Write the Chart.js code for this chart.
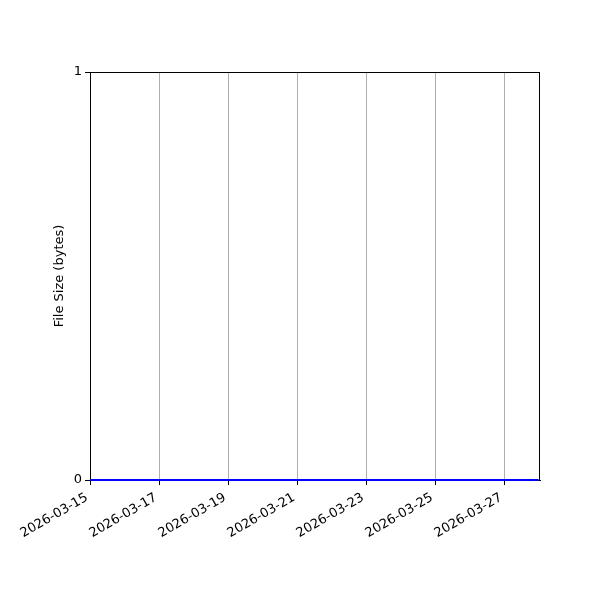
<!DOCTYPE html>
<html>
<head>
<meta charset="utf-8">
<script src="https://cdn.jsdelivr.net/npm/chart.js@4"></script>
<style>
  html, body { margin: 0; padding: 0; background: #fff; }
  #wrap { width: 600px; height: 600px; }
</style>
</head>
<body>
<div id="wrap"><canvas id="myChart" width="600" height="600"></canvas></div>
<script>
// data: daily file size samples, all zero
var dates = ['2026-03-15', '2026-03-16', '2026-03-17', '2026-03-18', '2026-03-19',
             '2026-03-20', '2026-03-21', '2026-03-22', '2026-03-23', '2026-03-24',
             '2026-03-25', '2026-03-26', '2026-03-27', '2026-03-28'];
var sizes = [0, 0, 0, 0, 0, 0, 0, 0, 0, 0, 0, 0, 0, 0];
var yTicks = [0, 1];

var DAY = 86400000;
var start = Date.UTC(2026, 2, 15);

function dayOffset(s) {
    var p = s.split('-');
    return (Date.UTC(+p[0], +p[1] - 1, +p[2]) - start) / DAY;
}
function dateLabel(v) {
    var d = new Date(start + v * DAY);
    var m = d.getUTCMonth() + 1, dd = d.getUTCDate();
    return d.getUTCFullYear() + '-' + (m < 10 ? '0' : '') + m + '-' + (dd < 10 ? '0' : '') + dd;
}

var points = dates.map(function (d, i) { return { x: dayOffset(d), y: sizes[i] }; });

// axes frame (top/right spines), drawn under the line
var framePlugin = {
    id: 'frame',
    beforeDatasetsDraw: function (chart) {
        var a = chart.chartArea, c = chart.ctx;
        c.save();
        c.strokeStyle = '#000';
        c.lineWidth = 1;
        c.strokeRect(a.left + 0.5, a.top + 0.5, a.right - a.left - 1, a.bottom - a.top);
        c.restore();
    }
};

Chart.defaults.font.family = 'DejaVu Sans';
Chart.defaults.font.size = 13;
Chart.defaults.color = '#000';

new Chart(document.getElementById('myChart'), {
    type: 'line',
    data: {
        datasets: [{
            data: points,
            borderColor: '#0000ff',
            borderWidth: 2,
            pointRadius: 0,
            fill: false,
            clip: false
        }]
    },
    options: {
        responsive: false,
        animation: false,
        layout: { padding: { top: 72, right: 60, left: 52, bottom: 0 } },
        plugins: { legend: { display: false }, tooltip: { enabled: false } },
        scales: {
            x: {
                type: 'linear',
                min: 0,
                max: 13.04,
                afterBuildTicks: function (axis) {
                    var t = [];
                    for (var v = 0; v <= 13; v += 2) t.push({ value: v });
                    axis.ticks = t;
                },
                afterFit: function (axis) { axis.height = 120; },
                ticks: {
                    minRotation: 30,
                    maxRotation: 30,
                    padding: 5,
                    labelOffset: -3,
                    callback: function (v) { return dateLabel(v); }
                },
                grid: {
                    color: '#b0b0b0',
                    lineWidth: 1,
                    tickColor: '#000',
                    tickLength: 5
                },
                border: { color: '#000', width: 1 }
            },
            y: {
                min: 0,
                max: 1,
                afterBuildTicks: function (axis) {
                    axis.ticks = yTicks.map(function (v) { return { value: v }; });
                },
                afterFit: function (axis) { axis.width = 38; },
                ticks: { padding: 3 },
                title: { display: true, text: 'File Size (bytes)', padding: 0 },
                grid: {
                    drawOnChartArea: false,
                    tickColor: '#000',
                    tickLength: 5
                },
                border: { color: '#000', width: 1 }
            }
        }
    },
    plugins: [framePlugin]
});
</script>
</body>
</html>
